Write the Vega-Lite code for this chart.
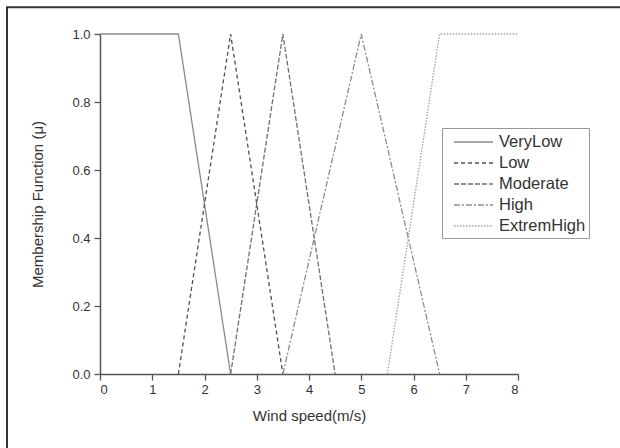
{
  "$schema": "https://vega.github.io/schema/vega-lite/v6.json",
  "autosize": {"type": "none"},
  "width": 418,
  "height": 340,
  "padding": {"left": 100, "top": 34, "right": 102, "bottom": 74},
  "background": "white",
  "config": {
    "view": {"stroke": null},
    "font": "Liberation Sans",
    "axis": {
      "domainColor": "#555",
      "domainWidth": 1.5,
      "tickColor": "#555",
      "tickWidth": 1.3,
      "labelColor": "#333",
      "labelFontSize": 13,
      "titleColor": "#333",
      "titleFontSize": 15,
      "titleFontWeight": "normal",
      "grid": false
    }
  },
  "datasets": {
    "mf": [
      {"speed": 0, "mu": 1, "set": "VeryLow"},
      {"speed": 1.5, "mu": 1, "set": "VeryLow"},
      {"speed": 2.5, "mu": 0, "set": "VeryLow"},
      {"speed": 1.5, "mu": 0, "set": "Low"},
      {"speed": 2.5, "mu": 1, "set": "Low"},
      {"speed": 3.5, "mu": 0, "set": "Low"},
      {"speed": 2.5, "mu": 0, "set": "Moderate"},
      {"speed": 3.5, "mu": 1, "set": "Moderate"},
      {"speed": 4.5, "mu": 0, "set": "Moderate"},
      {"speed": 3.5, "mu": 0, "set": "High"},
      {"speed": 5, "mu": 1, "set": "High"},
      {"speed": 6.5, "mu": 0, "set": "High"},
      {"speed": 5.5, "mu": 0, "set": "ExtremHigh"},
      {"speed": 6.5, "mu": 1, "set": "ExtremHigh"},
      {"speed": 8, "mu": 1, "set": "ExtremHigh"}
    ]
  },
  "layer": [
    {
      "data": {"values": [{}]},
      "mark": {"type": "rect", "filled": false, "stroke": "#333", "strokeWidth": 2, "clip": false},
      "encoding": {
        "x": {"datum": -1.78, "type": "quantitative", "scale": {"domain": [0, 8]}},
        "x2": {"datum": 10.1},
        "y": {"datum": 1.079, "type": "quantitative", "scale": {"domain": [0, 1]}},
        "y2": {"datum": -0.25}
      }
    },
    {
      "data": {"name": "mf"},
      "mark": {"type": "line", "strokeWidth": 1.3},
      "encoding": {
        "x": {
          "field": "speed",
          "type": "quantitative",
          "scale": {"domain": [0, 8], "nice": false, "zero": false},
          "title": "Wind speed(m/s)",
          "axis": {
            "values": [0, 0.5, 1, 1.5, 2, 2.5, 3, 3.5, 4, 4.5, 5, 5.5, 6, 6.5, 7, 7.5, 8],
            "labelExpr": "round(datum.value*2)%2==0 ? format(datum.value,'d') : ''",
            "tickSize": {"expr": "round(datum.value*2)%2==0 ? 6 : 3"},
            "labelPadding": 3,
            "titlePadding": 12
          }
        },
        "y": {
          "field": "mu",
          "type": "quantitative",
          "scale": {"domain": [0, 1], "nice": false},
          "title": "Membership Function (μ)",
          "axis": {
            "values": [0, 0.1, 0.2, 0.3, 0.4, 0.5, 0.6, 0.7, 0.8, 0.9, 1.0],
            "labelExpr": "round(datum.value*10)%2==0 ? format(datum.value,'.1f') : ''",
            "tickSize": {"expr": "round(datum.value*10)%2==0 ? 6 : 3"},
            "labelPadding": 4,
            "titlePadding": 26
          }
        },
        "color": {
          "field": "set",
          "type": "nominal",
          "scale": {
            "domain": ["VeryLow", "Low", "Moderate", "High", "ExtremHigh"],
            "range": ["#8a8a8a", "#505050", "#707070", "#8c8c8c", "#a0a0a0"]
          },
          "legend": {
            "orient": "none",
            "legendX": 342,
            "legendY": 94,
            "title": null,
            "strokeColor": "#999",
            "fillColor": "white",
            "padding": 3,
            "labelFontSize": 16.5,
            "labelColor": "#333",
            "symbolType": "M-0.2,0H3.7",
            "symbolSize": 400,
            "symbolStrokeWidth": 1.3,
            "rowPadding": 1,
            "labelOffset": 32
          }
        },
        "strokeDash": {
          "field": "set",
          "type": "nominal",
          "scale": {
            "domain": ["VeryLow", "Low", "Moderate", "High", "ExtremHigh"],
            "range": [[1, 0], [4, 3], [5, 2], [6, 2, 2, 2], [1.5, 1.5]]
          },
          "legend": {
            "orient": "none",
            "legendX": 342,
            "legendY": 94,
            "title": null
          }
        }
      }
    }
  ]
}
